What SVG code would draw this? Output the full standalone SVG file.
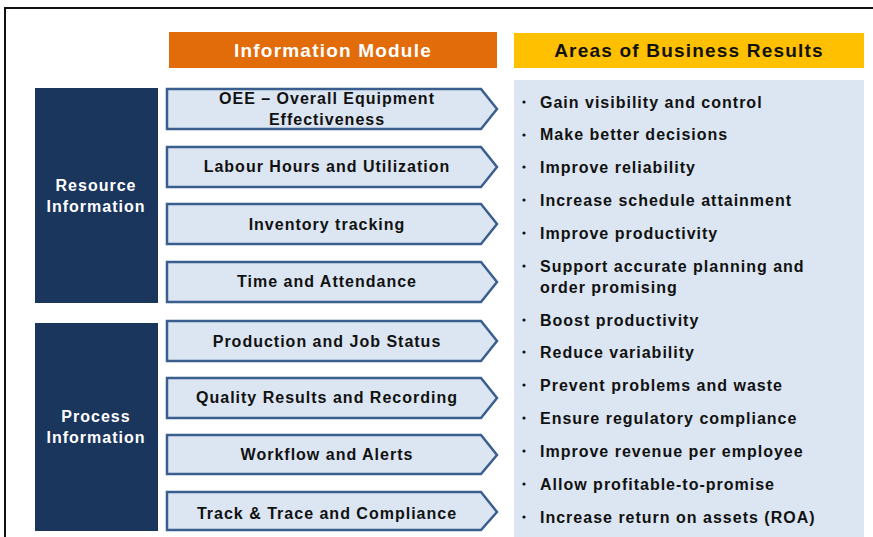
<svg xmlns="http://www.w3.org/2000/svg" width="873" height="537" viewBox="0 0 873 537">
  <style>
    text { font-family: "Liberation Sans", Arial, sans-serif; font-weight: bold; letter-spacing: 1px; }
    .hdr { font-size: 19px; text-anchor: middle; letter-spacing: 1.2px; }
    .cat { fill: #1b365d; }
    .cat-t { fill: #ffffff; font-size: 16px; text-anchor: middle; }
    .mod { fill: #dce6f2; stroke: #3a5f8f; stroke-width: 2.5; }
    .mod-t { fill: #111111; font-size: 16px; text-anchor: middle; }
    .res-t { fill: #111111; font-size: 16px; }
    .dot { fill: #111111; }
  </style>

  <!-- frame -->
  <rect x="0" y="0" width="873" height="537" fill="#ffffff"/>
  <path d="M5,537 V8 H873" fill="none" stroke="#111111" stroke-width="2"/>

  <!-- column headers -->
  <g id="header-modules">
    <rect x="169" y="32" width="328" height="36" fill="#e36c0a"/>
    <text class="hdr" x="333" y="57" fill="#ffffff">Information Module</text>
  </g>
  <g id="header-results">
    <rect x="514" y="33" width="350" height="35" fill="#ffc000"/>
    <text class="hdr" x="689" y="57" fill="#111111">Areas of Business Results</text>
  </g>

  <!-- categories -->
  <g id="cat-resource">
    <rect class="cat" x="35" y="88" width="123" height="215"/>
    <text class="cat-t" x="96" y="191">Resource</text>
    <text class="cat-t" x="96" y="212">Information</text>
  </g>
  <g id="cat-process">
    <rect class="cat" x="35" y="323" width="123" height="208"/>
    <text class="cat-t" x="96" y="422">Process</text>
    <text class="cat-t" x="96" y="443">Information</text>
  </g>

  <!-- information modules -->
  <g id="mod-oee">
    <path class="mod" d="M167,89 H481 L497,109 L481,129 H167 Z"/>
    <text class="mod-t" x="327" y="104">OEE – Overall Equipment</text>
    <text class="mod-t" x="327" y="125">Effectiveness</text>
  </g>
  <g id="mod-labour">
    <path class="mod" d="M167,147 H481 L497,167 L481,187 H167 Z"/>
    <text class="mod-t" x="327" y="172">Labour Hours and Utilization</text>
  </g>
  <g id="mod-inventory">
    <path class="mod" d="M167,204 H481 L497,224 L481,244 H167 Z"/>
    <text class="mod-t" x="327" y="230">Inventory tracking</text>
  </g>
  <g id="mod-time">
    <path class="mod" d="M167,262 H481 L497,282 L481,302 H167 Z"/>
    <text class="mod-t" x="327" y="287">Time and Attendance</text>
  </g>
  <g id="mod-production">
    <path class="mod" d="M167,321 H481 L497,341 L481,361 H167 Z"/>
    <text class="mod-t" x="327" y="347">Production and Job Status</text>
  </g>
  <g id="mod-quality">
    <path class="mod" d="M167,378 H481 L497,398 L481,418 H167 Z"/>
    <text class="mod-t" x="327" y="403">Quality Results and Recording</text>
  </g>
  <g id="mod-workflow">
    <path class="mod" d="M167,435 H481 L497,455 L481,474 H167 Z"/>
    <text class="mod-t" x="327" y="460">Workflow and Alerts</text>
  </g>
  <g id="mod-track">
    <path class="mod" d="M167,492 H481 L497,512 L481,530 H167 Z"/>
    <text class="mod-t" x="327" y="519">Track &amp; Trace and Compliance</text>
  </g>

  <!-- business results panel -->
  <g id="results">
    <rect x="514" y="80" width="350" height="457" fill="#dce6f2"/>
    <g class="dot">
      <circle cx="524" cy="102" r="1.6"/>
      <circle cx="524" cy="135" r="1.6"/>
      <circle cx="524" cy="167" r="1.6"/>
      <circle cx="524" cy="200" r="1.6"/>
      <circle cx="524" cy="233" r="1.6"/>
      <circle cx="524" cy="266" r="1.6"/>
      <circle cx="524" cy="320" r="1.6"/>
      <circle cx="524" cy="352" r="1.6"/>
      <circle cx="524" cy="385" r="1.6"/>
      <circle cx="524" cy="418" r="1.6"/>
      <circle cx="524" cy="451" r="1.6"/>
      <circle cx="524" cy="484" r="1.6"/>
      <circle cx="524" cy="517" r="1.6"/>
    </g>
    <text class="res-t" x="540" y="108">Gain visibility  and control</text>
    <text class="res-t" x="540" y="140">Make better decisions</text>
    <text class="res-t" x="540" y="173">Improve reliability</text>
    <text class="res-t" x="540" y="206">Increase schedule attainment</text>
    <text class="res-t" x="540" y="239">Improve productivity</text>
    <text class="res-t" x="540" y="272">Support accurate planning and</text>
    <text class="res-t" x="540" y="293">order promising</text>
    <text class="res-t" x="540" y="326">Boost productivity</text>
    <text class="res-t" x="540" y="358">Reduce variability</text>
    <text class="res-t" x="540" y="391">Prevent problems and waste</text>
    <text class="res-t" x="540" y="424">Ensure regulatory compliance</text>
    <text class="res-t" x="540" y="457">Improve revenue per employee</text>
    <text class="res-t" x="540" y="490">Allow profitable-to-promise</text>
    <text class="res-t" x="540" y="523">Increase return on assets (ROA)</text>
  </g>
</svg>
